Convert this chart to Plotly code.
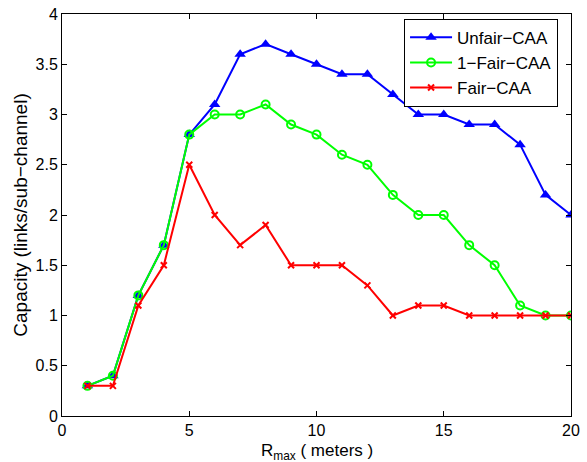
import plotly.graph_objects as go

r_max = list(range(1, 21))
unfair_caa = [0.3, 0.4, 1.2, 1.7, 2.8, 3.1, 3.6, 3.7, 3.6, 3.5, 3.4, 3.4, 3.2, 3.0, 3.0, 2.9, 2.9, 2.7, 2.2, 2.0]
one_fair_caa = [0.3, 0.4, 1.2, 1.7, 2.8, 3.0, 3.0, 3.1, 2.9, 2.8, 2.6, 2.5, 2.2, 2.0, 2.0, 1.7, 1.5, 1.1, 1.0, 1.0]
fair_caa = [0.3, 0.3, 1.1, 1.5, 2.5, 2.0, 1.7, 1.9, 1.5, 1.5, 1.5, 1.3, 1.0, 1.1, 1.1, 1.0, 1.0, 1.0, 1.0, 1.0]

x_ticks = [0, 5, 10, 15, 20]
y_ticks = [0, 0.5, 1, 1.5, 2, 2.5, 3, 3.5, 4]
y_tick_labels = ["0", "0.5", "1", "1.5", "2", "2.5", "3", "3.5", "4"]
x_title = "R<sub>max</sub> ( meters )"
y_title = "Capacity (links/sub\u2212channel)"

fig = go.Figure()
fig.add_trace(go.Scatter(
    x=r_max, y=unfair_caa, name="Unfair\u2212CAA", mode="lines+markers",
    line=dict(color="#0000FF", width=2),
    marker=dict(symbol="triangle-up", size=10, color="#0000FF"),
))
fig.add_trace(go.Scatter(
    x=r_max, y=one_fair_caa, name="1\u2212Fair\u2212CAA", mode="lines+markers",
    line=dict(color="#00FF00", width=2),
    marker=dict(symbol="circle-open", size=8, color="#00FF00", line=dict(width=2)),
))
fig.add_trace(go.Scatter(
    x=r_max, y=fair_caa, name="Fair\u2212CAA", mode="lines+markers",
    line=dict(color="#FF0000", width=2),
    marker=dict(symbol="x-thin-open", size=6, color="#FF0000", line=dict(width=2, color="#FF0000")),
))

axis_common = dict(
    showline=True, linecolor="black", linewidth=1, mirror="ticks",
    ticks="inside", ticklen=5, tickcolor="black", showgrid=False, zeroline=False,
    tickfont=dict(size=16, color="black"), automargin=False,
)

fig.update_layout(
    width=587, height=462,
    margin=dict(l=62, r=16, t=14, b=46, autoexpand=False),
    paper_bgcolor="white", plot_bgcolor="white",
    font=dict(family="Liberation Sans, Arial, sans-serif", size=16, color="black"),
    showlegend=True,
    legend=dict(
        x=0.672, y=0.988, xanchor="left", yanchor="top",
        bgcolor="white", bordercolor="black", borderwidth=1,
        font=dict(size=17), tracegroupgap=0, itemwidth=42,
    ),
    xaxis=dict(range=[0, 20], tickvals=x_ticks, ticklabelstandoff=0, **axis_common),
    yaxis=dict(
        range=[0, 4], tickvals=y_ticks, ticktext=y_tick_labels,
        title=dict(text=y_title, standoff=2, font=dict(size=19)),
        **axis_common,
    ),
    annotations=[dict(
        text=x_title, xref="paper", yref="paper", x=0.5, y=-0.056,
        xanchor="center", yanchor="top", showarrow=False,
        font=dict(size=17, color="black"),
    )],
)

fig.write_html(
    "out.html",
    config={"displayModeBar": False},
    post_script="document.body.style.margin='0px';document.body.style.padding='0px';",
)
